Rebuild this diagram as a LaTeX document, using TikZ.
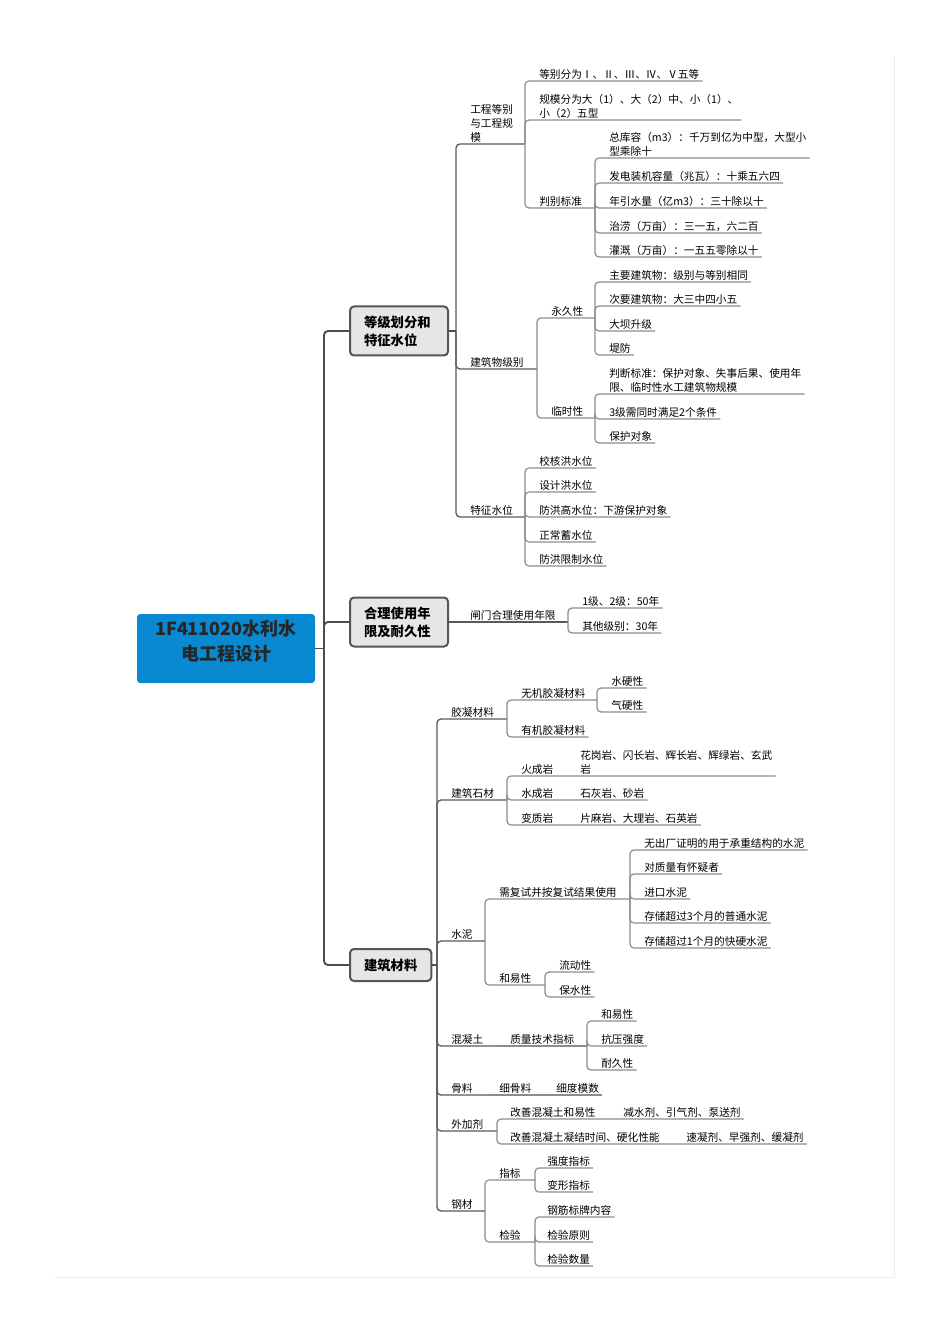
\documentclass[tikz,border=0pt]{standalone}
\usepackage{fontspec}
\setmainfont{Noto Sans CJK SC}
\definecolor{rootblue}{RGB}{8,137,210}
\definecolor{boxgray}{RGB}{230,230,230}
\definecolor{boxline}{RGB}{85,85,85}
\begin{document}
\begin{tikzpicture}[
  x=0.75pt, y=-0.75pt,
  rootbox/.style={rectangle, rounded corners=2.5pt, fill=rootblue, minimum width=178*0.75pt, minimum height=69*0.75pt, text depth=12pt, align=center, text=black!85, font=\fontsize{13.5pt}{18.5pt}\selectfont\bfseries},
  topic/.style={rectangle, anchor=west, rounded corners=3pt, fill=boxgray, draw=boxline, line width=1.5pt, inner xsep=14*0.75pt, align=left, font=\fontsize{10pt}{13.5pt}\selectfont\bfseries},
  txt/.style={anchor=south west, inner xsep=2.25pt, inner ysep=1pt, align=left, font=\fontsize{8pt}{10.5pt}\selectfont},
  trunk/.style={draw=black!70, line width=1.4pt, rounded corners=3pt},
  ln/.style={draw=black!65, line width=1pt, rounded corners=3pt},
  sub/.style={draw=black!45, line width=0.9pt, rounded corners=3pt}
]
\useasboundingbox (0,0) rectangle (950,1333);
\draw[black!7, line width=0.75pt] (55,1277) -- (894,1277) -- (894,56);
% 中心主题
\node[rootbox] (root) at (226,648.5) {1F411020水利水\\电工程设计};
\node[topic, text width=70*0.75pt, minimum height=49*0.75pt] (t1) at (349,331) {等级划分和\\特征水位};
\node[topic, text width=70*0.75pt, minimum height=49*0.75pt] (t2) at (349,622) {合理使用年\\限及耐久性};
\node[topic, minimum height=32*0.75pt] (t3) at (349,965) {建筑材料};
\coordinate (r-j) at (324,648.5);
\draw[trunk] (root.east) -- (r-j);
\foreach \t in {t1,t2,t3}
  \draw[trunk] (r-j) |- (\t.west);
% 等级划分和特征水位
\coordinate (t1-j) at (456,331);
\draw[trunk] (t1.east) -- (t1-j);
\node[txt] (gc) at (467,144) {工程等别\\与工程规\\模};
\node[txt] (jz) at (467,369) {建筑物级别};
\node[txt] (tz) at (467,517) {特征水位};
\coordinate (gc-j) at (525,144);
\coordinate (jz-j) at (537,369);
\coordinate (tz-j) at (525,517);
\draw[ln] (t1-j) |- (gc.south east) -- (gc-j);
\draw[ln] (t1-j) |- (jz.south east) -- (jz-j);
\draw[ln] (t1-j) |- (tz.south east) -- (tz-j);
% 工程等别与工程规模
\foreach \n/\y/\lbl in {g1/81/{等别分为Ⅰ、Ⅱ、Ⅲ、Ⅳ、Ⅴ五等}, g2/120/{规模分为大（1）、大（2）中、小（1）、\\小（2）五型}} {
  \node[txt] (\n) at (536,\y) {\lbl};
  \draw[sub] (gc-j) |- (\n.south east);
}
\node[txt] (pb) at (536,208) {判别标准};
\coordinate (pb-j) at (595,208);
\draw[sub] (gc-j) |- (pb.south east) -- (pb-j);
\foreach \n/\y/\lbl in {p1/158/{总库容（m3）：千万到亿为中型，大型小\\型乘除十}, p2/183/{发电装机容量（兆瓦）：十乘五六四}, p3/208/{年引水量（亿m3）：三十除以十}, p4/233/{治涝（万亩）：三一五，六二百}, p5/257/{灌溉（万亩）：一五五零除以十}} {
  \node[txt] (\n) at (606,\y) {\lbl};
  \draw[sub] (pb-j) |- (\n.south east);
}
% 建筑物级别
\node[txt] (yj) at (548,318) {永久性};
\node[txt] (ls) at (548,418) {临时性};
\coordinate (yj-j) at (595,318);
\coordinate (ls-j) at (595,418);
\draw[sub] (jz-j) |- (yj.south east) -- (yj-j);
\draw[sub] (jz-j) |- (ls.south east) -- (ls-j);
\foreach \n/\y/\lbl in {y1/282/{主要建筑物：级别与等别相同}, y2/306/{次要建筑物：大三中四小五}, y3/331/大坝升级, y4/355/堤防} {
  \node[txt] (\n) at (606,\y) {\lbl};
  \draw[sub] (yj-j) |- (\n.south east);
}
\foreach \n/\y/\lbl in {s1/394/{判断标准：保护对象、失事后果、使用年\\限、临时性水工建筑物规模}, s2/419/{3级需同时满足2个条件}, s3/443/保护对象} {
  \node[txt] (\n) at (606,\y) {\lbl};
  \draw[sub] (ls-j) |- (\n.south east);
}
% 特征水位
\foreach \n/\y/\lbl in {z1/468/校核洪水位, z2/492/设计洪水位, z3/517/{防洪高水位：下游保护对象}, z4/542/正常蓄水位, z5/566/防洪限制水位} {
  \node[txt] (\n) at (536,\y) {\lbl};
  \draw[sub] (tz-j) |- (\n.south east);
}
% 合理使用年限及耐久性
\node[txt] (zm) at (467,622) {闸门合理使用年限};
\coordinate (zm-j) at (568,622);
\draw[ln] (t2.east) -- (zm.south east) -- (zm-j);
\foreach \n/\y/\lbl in {a1/608/{1级、2级：50年}, a2/633/{其他级别：30年}} {
  \node[txt] (\n) at (579,\y) {\lbl};
  \draw[sub] (zm-j) |- (\n.south east);
}
% 建筑材料
\coordinate (t3-j) at (437,965);
\draw[trunk] (t3.east) -- (t3-j);
\foreach \n/\y/\lbl/\jx in {jn/719/胶凝材料/507, jc/800/建筑石材/507, sn/941/水泥/485, hn/1046/混凝土/497, gl/1095/骨料/486, wj/1131/外加剂/497, gt/1211/钢材/485} {
  \node[txt] (\n) at (448,\y) {\lbl};
  \coordinate (\n-j) at (\jx,\y);
  \draw[ln] (t3-j) |- (\n.south east) -- (\n-j);
}
% 胶凝材料
\node[txt] (wjn) at (518,700) {无机胶凝材料};
\node[txt] (yjn) at (518,737) {有机胶凝材料};
\coordinate (wjn-j) at (597,700);
\draw[sub] (jn-j) |- (wjn.south east) -- (wjn-j);
\draw[sub] (jn-j) |- (yjn.south east);
\foreach \n/\y/\lbl in {sy/688/水硬性, qy/712/气硬性} {
  \node[txt] (\n) at (608,\y) {\lbl};
  \draw[sub] (wjn-j) |- (\n.south east);
}
% 建筑石材
\foreach \n/\y/\lbl/\sub in {hc/776/火成岩/{花岗岩、闪长岩、辉长岩、辉绿岩、玄武\\岩}, sc/800/水成岩/{石灰岩、砂岩}, bz/825/变质岩/{片麻岩、大理岩、石英岩}} {
  \node[txt] (\n) at (518,\y) {\lbl};
  \node[txt] (\n-c) at (577,\y) {\sub};
  \draw[sub] (jc-j) |- (\n.south east) -- (\n-c.south east);
}
% 水泥
\node[txt] (fs) at (496,899) {需复试并按复试结果使用};
\node[txt] (hy) at (496,985) {和易性};
\coordinate (fs-j) at (630,899);
\coordinate (hy-j) at (545,985);
\draw[sub] (sn-j) |- (fs.south east) -- (fs-j);
\draw[sub] (sn-j) |- (hy.south east) -- (hy-j);
\foreach \n/\y/\lbl in {f1/850/无出厂证明的用于承重结构的水泥, f2/874/对质量有怀疑者, f3/899/进口水泥, f4/923/存储超过3个月的普通水泥, f5/948/存储超过1个月的快硬水泥} {
  \node[txt] (\n) at (641,\y) {\lbl};
  \draw[sub] (fs-j) |- (\n.south east);
}
\foreach \n/\y/\lbl in {ld/972/流动性, bs/997/保水性} {
  \node[txt] (\n) at (556,\y) {\lbl};
  \draw[sub] (hy-j) |- (\n.south east);
}
% 混凝土
\node[txt] (zl) at (507,1046) {质量技术指标};
\coordinate (zl-j) at (587,1046);
\draw[sub] (hn-j) -- (zl.south east) -- (zl-j);
\foreach \n/\y/\lbl in {hx/1021/和易性, ky/1046/抗压强度, nj/1070/耐久性} {
  \node[txt] (\n) at (598,\y) {\lbl};
  \draw[sub] (zl-j) |- (\n.south east);
}
% 骨料
\node[txt] (xg) at (496,1095) {细骨料};
\node[txt] (xd) at (553,1095) {细度模数};
\draw[sub] (gl-j) -- (xg.south east) -- (xd.south east);
% 外加剂
\foreach \n/\y/\lbl/\sub/\cx in {gs1/1119/改善混凝土和易性/{减水剂、引气剂、泵送剂}/620, gs2/1144/{改善混凝土凝结时间、硬化性能}/{速凝剂、早强剂、缓凝剂}/683} {
  \node[txt] (\n) at (507,\y) {\lbl};
  \node[txt] (\n-c) at (\cx,\y) {\sub};
  \draw[sub] (wj-j) |- (\n.south east) -- (\n-c.south east);
}
% 钢材
\node[txt] (zb) at (496,1180) {指标};
\node[txt] (jy) at (496,1242) {检验};
\coordinate (zb-j) at (535,1180);
\coordinate (jy-j) at (535,1242);
\draw[sub] (gt-j) |- (zb.south east) -- (zb-j);
\draw[sub] (gt-j) |- (jy.south east) -- (jy-j);
\foreach \n/\y/\lbl in {qd/1168/强度指标, bx/1192/变形指标} {
  \node[txt] (\n) at (544,\y) {\lbl};
  \draw[sub] (zb-j) |- (\n.south east);
}
\foreach \n/\y/\lbl in {bp/1217/钢筋标牌内容, yz/1242/检验原则, sl/1266/检验数量} {
  \node[txt] (\n) at (544,\y) {\lbl};
  \draw[sub] (jy-j) |- (\n.south east);
}
\end{tikzpicture}
\end{document}
